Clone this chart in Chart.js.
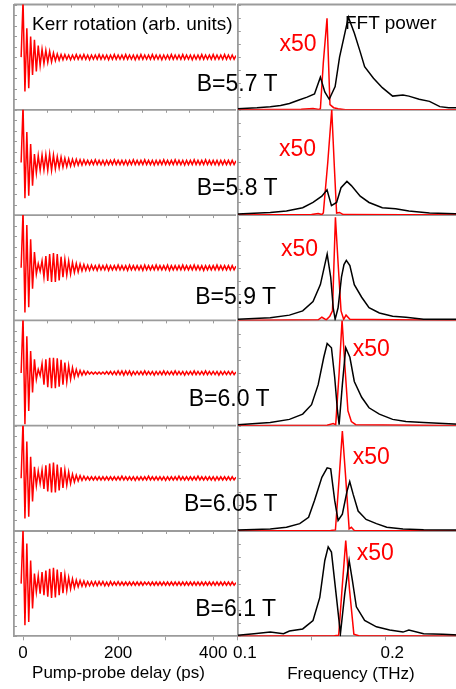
<!DOCTYPE html>
<html>
<head>
<meta charset="utf-8">
<script src="https://cdn.jsdelivr.net/npm/chart.js@4.4.1/dist/chart.umd.min.js"></script>
<style>
  html, body { margin: 0; padding: 0; background: #fff; }
  #wrap { position: relative; width: 456px; height: 689px; overflow: hidden; }
  #wrap canvas { position: absolute; top: 0; }
  #kerr { left: 0; }
  #fft { left: 223px; }
  .txt { position: absolute; white-space: nowrap; line-height: 1; font-family: "Liberation Sans", Arial, sans-serif; }
</style>
</head>
<body>
<div id="wrap">
  <canvas id="kerr" width="240" height="689" style="width:240px;height:689px"></canvas>
  <canvas id="fft" width="241" height="689" style="width:241px;height:689px"></canvas>
</div>
<script>
const GRAY = "#9b9b9b";
const FONT = '"Liberation Sans", Arial, sans-serif';

const fields = ["5.7", "5.8", "5.9", "6.0", "6.05", "6.1"];
const delayTickLabels = [0, 200, 400];
const freqTickLabels = [0.1, 0.2];

// pump-probe delay (ps), one sample per half period of the precession
const delayPs = [
  -4,
  0, 4, 8, 12, 16, 20, 24, 28, 32, 36, 40, 44,
  48, 52, 56, 60, 64, 68, 72, 76, 80, 84, 88, 92,
  96, 100, 104, 108, 112, 116, 120, 124, 128, 132, 136, 140,
  144, 148, 152, 156, 160, 164, 168, 172, 176, 180, 184, 188,
  192, 196, 200, 204, 208, 212, 216, 220, 224, 228, 232, 236,
  240, 244, 248, 252, 256, 260, 264, 268, 272, 276, 280, 284,
  288, 292, 296, 300, 304, 308, 312, 316, 320, 324, 328, 332,
  336, 340, 344, 348, 352, 356, 360, 364, 368, 372, 376, 380,
  384, 388, 392, 396, 400, 404, 408, 412, 416, 420, 424, 428,
  432, 436, 440, 444, 448
];

// Kerr rotation traces, normalised to each panel's half height
const kerr57 = [
  0,
  1.08, -0.65, 0.55, -0.59, 0.39, -0.34, 0.33, -0.27, 0.22, -0.16, 0.15, -0.12,
  0.13, -0.10, 0.11, -0.09, 0.08, -0.07, 0.06, -0.06, 0.05, -0.05, 0.05, -0.04,
  0.04, -0.05, 0.04, -0.04, 0.05, -0.04, 0.04, -0.04, 0.05, -0.04, 0.04, -0.05,
  0.04, -0.04, 0.04, -0.04, 0.05, -0.04, 0.04, -0.04, 0.04, -0.05, 0.04, -0.04,
  0.05, -0.04, 0.04, -0.04, 0.04, -0.04, 0.05, -0.04, 0.04, -0.04, 0.04, -0.05,
  0.04, -0.04, 0.05, -0.04, 0.04, -0.04, 0.04, -0.04, 0.05, -0.04, 0.04, -0.04,
  0.04, -0.05, 0.04, -0.04, 0.04, -0.04, 0.05, -0.04, 0.04, -0.04, 0.04, -0.04,
  0.05, -0.04, 0.04, -0.04, 0.04, -0.05, 0.04, -0.04, 0.04, -0.04, 0.05, -0.04,
  0.04, -0.04, 0.04, -0.04, 0.05, -0.04, 0.04, -0.04, 0.04, -0.04, 0.05, -0.04,
  0.04, -0.04, 0.04, -0.04, 0.03
];
const kerr58 = [
  0,
  1.08, -0.68, 0.58, -0.63, 0.35, -0.44, 0.16, -0.20, 0.13, -0.15, 0.14, -0.14,
  0.15, -0.15, 0.16, -0.15, 0.14, -0.12, 0.11, -0.10, 0.10, -0.09, 0.08, -0.08,
  0.07, -0.07, 0.06, -0.06, 0.06, -0.05, 0.05, -0.05, 0.05, -0.04, 0.04, -0.04,
  0.04, -0.04, 0.05, -0.04, 0.04, -0.04, 0.04, -0.05, 0.04, -0.04, 0.04, -0.04,
  0.05, -0.04, 0.04, -0.04, 0.04, -0.04, 0.04, -0.05, 0.04, -0.04, 0.05, -0.04,
  0.04, -0.04, 0.04, -0.04, 0.05, -0.04, 0.04, -0.04, 0.04, -0.05, 0.04, -0.04,
  0.04, -0.04, 0.05, -0.04, 0.04, -0.04, 0.04, -0.04, 0.05, -0.04, 0.04, -0.04,
  0.04, -0.05, 0.04, -0.04, 0.04, -0.04, 0.05, -0.04, 0.04, -0.04, 0.04, -0.04,
  0.05, -0.04, 0.04, -0.04, 0.04, -0.04, 0.04, -0.05, 0.04, -0.04, 0.04, -0.04,
  0.04, -0.04, 0.04, -0.04, 0.03
];
const kerr59 = [
  0,
  1.08, -0.85, 0.81, -0.75, 0.54, -0.40, 0.30, -0.12, 0.08, -0.07, 0.13, -0.18,
  0.22, -0.25, 0.26, -0.27, 0.28, -0.27, 0.26, -0.24, 0.21, -0.18, 0.16, -0.14,
  0.13, -0.12, 0.10, -0.09, 0.08, -0.08, 0.07, -0.06, 0.06, -0.05, 0.05, -0.05,
  0.05, -0.04, 0.04, -0.05, 0.05, -0.04, 0.04, -0.04, 0.05, -0.05, 0.04, -0.04,
  0.04, -0.04, 0.05, -0.04, 0.04, -0.04, 0.04, -0.05, 0.05, -0.04, 0.04, -0.04,
  0.04, -0.04, 0.04, -0.05, 0.05, -0.04, 0.04, -0.04, 0.04, -0.04, 0.05, -0.04,
  0.04, -0.04, 0.04, -0.04, 0.05, -0.05, 0.04, -0.04, 0.04, -0.04, 0.04, -0.04,
  0.05, -0.04, 0.04, -0.04, 0.04, -0.04, 0.05, -0.04, 0.04, -0.04, 0.04, -0.05,
  0.04, -0.04, 0.04, -0.04, 0.04, -0.04, 0.05, -0.04, 0.04, -0.04, 0.04, -0.04,
  0.04, -0.04, 0.04, -0.04, 0.03
];
const kerr60 = [
  0,
  1.08, -0.97, 0.70, -0.72, 0.42, -0.37, 0.26, -0.12, 0.07, -0.05, 0.18, -0.22,
  0.26, -0.27, 0.29, -0.29, 0.29, -0.29, 0.28, -0.26, 0.25, -0.22, 0.20, -0.17,
  0.14, -0.12, 0.10, -0.08, 0.07, -0.06, 0.05, -0.04, 0.04, -0.03, 0.03, -0.02,
  0.02, -0.02, 0.02, -0.02, 0.02, -0.02, 0.02, -0.02, 0.03, -0.02, 0.03, -0.03,
  0.03, -0.03, 0.04, -0.03, 0.04, -0.04, 0.04, -0.03, 0.04, -0.04, 0.03, -0.03,
  0.03, -0.03, 0.03, -0.03, 0.04, -0.03, 0.03, -0.03, 0.03, -0.04, 0.03, -0.03,
  0.03, -0.03, 0.04, -0.03, 0.03, -0.03, 0.03, -0.03, 0.04, -0.03, 0.03, -0.03,
  0.03, -0.04, 0.03, -0.03, 0.03, -0.03, 0.04, -0.03, 0.03, -0.03, 0.03, -0.03,
  0.04, -0.03, 0.03, -0.03, 0.03, -0.03, 0.03, -0.04, 0.03, -0.03, 0.03, -0.03,
  0.03, -0.03, 0.03, -0.03, 0.02
];
const kerr605 = [
  0,
  1.10, -0.76, 0.70, -0.73, 0.41, -0.44, 0.22, -0.14, 0.14, -0.10, 0.16, -0.20,
  0.25, -0.25, 0.28, -0.27, 0.30, -0.27, 0.26, -0.23, 0.21, -0.18, 0.16, -0.13,
  0.12, -0.10, 0.08, -0.07, 0.06, -0.05, 0.05, -0.04, 0.04, -0.03, 0.03, -0.03,
  0.03, -0.03, 0.03, -0.03, 0.03, -0.03, 0.03, -0.03, 0.03, -0.03, 0.03, -0.03,
  0.03, -0.03, 0.03, -0.03, 0.04, -0.03, 0.03, -0.03, 0.03, -0.03, 0.03, -0.04,
  0.03, -0.03, 0.03, -0.03, 0.03, -0.03, 0.04, -0.03, 0.03, -0.03, 0.03, -0.03,
  0.03, -0.03, 0.03, -0.04, 0.03, -0.03, 0.03, -0.03, 0.03, -0.03, 0.04, -0.03,
  0.03, -0.03, 0.03, -0.03, 0.03, -0.03, 0.03, -0.03, 0.04, -0.03, 0.03, -0.03,
  0.03, -0.03, 0.03, -0.03, 0.03, -0.04, 0.03, -0.03, 0.03, -0.03, 0.03, -0.03,
  0.03, -0.03, 0.03, -0.03, 0.02
];
const kerr61 = [
  0,
  1.05, -0.79, 0.76, -0.73, 0.44, -0.47, 0.19, -0.16, 0.15, -0.19, 0.22, -0.22,
  0.25, -0.25, 0.28, -0.27, 0.30, -0.26, 0.27, -0.22, 0.22, -0.18, 0.17, -0.13,
  0.12, -0.10, 0.09, -0.08, 0.07, -0.06, 0.06, -0.05, 0.05, -0.05, 0.04, -0.04,
  0.04, -0.04, 0.04, -0.04, 0.04, -0.03, 0.04, -0.04, 0.03, -0.04, 0.04, -0.03,
  0.03, -0.03, 0.04, -0.03, 0.03, -0.03, 0.03, -0.03, 0.03, -0.03, 0.03, -0.03,
  0.03, -0.03, 0.03, -0.03, 0.03, -0.02, 0.03, -0.03, 0.03, -0.03, 0.03, -0.03,
  0.03, -0.03, 0.03, -0.03, 0.03, -0.03, 0.03, -0.03, 0.03, -0.03, 0.03, -0.03,
  0.03, -0.03, 0.03, -0.03, 0.03, -0.03, 0.03, -0.03, 0.03, -0.03, 0.03, -0.03,
  0.03, -0.03, 0.03, -0.03, 0.03, -0.03, 0.03, -0.03, 0.03, -0.03, 0.03, -0.03,
  0.03, -0.03, 0.03, -0.03, 0.02
];

// FFT power (black) and the x50 trace (red), each normalised to its panel height
const fftFreq57 = [0.100, 0.113, 0.122, 0.129, 0.135, 0.141, 0.147, 0.152, 0.156, 0.159, 0.162, 0.166, 0.169, 0.172, 0.175, 0.179, 0.183, 0.186, 0.192, 0.198, 0.205, 0.212, 0.216, 0.223, 0.230, 0.237, 0.243, 0.254];
const fftPow57  = [0.01, 0.02, 0.03, 0.04, 0.06, 0.09, 0.12, 0.15, 0.31, 0.17, 0.10, 0.22, 0.50, 0.69, 0.88, 0.73, 0.55, 0.41, 0.30, 0.21, 0.13, 0.14, 0.13, 0.10, 0.08, 0.03, 0.02, 0.02];
const x50Freq57 = [0.100, 0.143, 0.151, 0.155, 0.156, 0.158, 0.1605, 0.1625, 0.165, 0.168, 0.173, 0.254];
const x50Pow57  = [0, 0.005, 0.012, 0.004, 0.01, 0.45, 0.87, 0.05, 0.02, 0.01, 0, 0];

const fftFreq58 = [0.100, 0.122, 0.133, 0.144, 0.151, 0.157, 0.1605, 0.1635, 0.167, 0.170, 0.174, 0.177, 0.183, 0.189, 0.198, 0.207, 0.216, 0.230, 0.254];
const fftPow58  = [0.01, 0.025, 0.04, 0.07, 0.12, 0.18, 0.24, 0.09, 0.12, 0.26, 0.32, 0.28, 0.18, 0.12, 0.07, 0.06, 0.04, 0.02, 0.01];
const x50Freq58 = [0.100, 0.150, 0.1545, 0.157, 0.158, 0.161, 0.1637, 0.1655, 0.167, 0.169, 0.1715, 0.254];
const x50Pow58  = [0, 0.005, 0.015, 0.005, 0.02, 0.5, 1.0, 0.45, 0.02, 0.025, 0.005, 0];

const fftFreq59 = [0.100, 0.122, 0.135, 0.144, 0.151, 0.156, 0.159, 0.1606, 0.163, 0.1647, 0.166, 0.168, 0.1703, 0.172, 0.1736, 0.176, 0.179, 0.184, 0.189, 0.196, 0.205, 0.214, 0.226, 0.254];
const fftPow59  = [0.01, 0.025, 0.05, 0.09, 0.18, 0.34, 0.53, 0.63, 0.41, 0.12, 0.01, 0.12, 0.41, 0.53, 0.57, 0.52, 0.34, 0.22, 0.12, 0.07, 0.04, 0.03, 0.01, 0.01];
const x50Freq59 = [0.100, 0.1545, 0.157, 0.160, 0.1624, 0.1642, 0.1662, 0.1682, 0.170, 0.1718, 0.1734, 0.176, 0.254];
const x50Pow59  = [0, 0.005, 0.03, 0.005, 0.04, 0.09, 0.98, 0.5, 0.09, 0.01, 0.05, 0.01, 0];

const fftFreq60 = [0.100, 0.122, 0.135, 0.144, 0.150, 0.1545, 0.1583, 0.1606, 0.1635, 0.1657, 0.1676, 0.1687, 0.1709, 0.1732, 0.176, 0.179, 0.184, 0.189, 0.196, 0.205, 0.214, 0.226, 0.254];
const fftPow60  = [0.01, 0.03, 0.06, 0.11, 0.20, 0.39, 0.65, 0.78, 0.74, 0.46, 0.14, 0.01, 0.39, 0.74, 0.65, 0.42, 0.27, 0.17, 0.11, 0.06, 0.04, 0.03, 0.01];
const x50Freq60 = [0.100, 0.1606, 0.1647, 0.1664, 0.1687, 0.1707, 0.1727, 0.1747, 0.177, 0.180, 0.254];
const x50Pow60  = [0, 0.005, 0.02, 0.01, 0.5, 1.0, 0.55, 0.14, 0.04, 0.01, 0];

const fftFreq605 = [0.100, 0.122, 0.133, 0.142, 0.148, 0.152, 0.157, 0.1606, 0.163, 0.1657, 0.168, 0.1709, 0.1741, 0.1759, 0.1782, 0.1816, 0.187, 0.194, 0.201, 0.212, 0.226, 0.254];
const fftPow605  = [0.01, 0.02, 0.035, 0.07, 0.13, 0.29, 0.51, 0.60, 0.59, 0.29, 0.10, 0.16, 0.38, 0.47, 0.35, 0.19, 0.11, 0.07, 0.035, 0.02, 0.013, 0.01];
const x50Freq605 = [0.100, 0.163, 0.1662, 0.1686, 0.1709, 0.1732, 0.1755, 0.177, 0.179, 0.254];
const x50Pow605  = [0, 0.005, 0.01, 0.48, 0.95, 0.5, 0.02, 0.035, 0.005, 0];

const fftFreq61 = [0.100, 0.111, 0.122, 0.131, 0.135, 0.144, 0.151, 0.1556, 0.159, 0.1613, 0.1635, 0.1669, 0.1696, 0.1725, 0.1755, 0.1777, 0.1804, 0.186, 0.194, 0.203, 0.212, 0.216, 0.226, 0.239, 0.254];
const fftPow61  = [0.01, 0.025, 0.04, 0.025, 0.05, 0.07, 0.15, 0.37, 0.72, 0.85, 0.80, 0.37, 0.025, 0.40, 0.72, 0.53, 0.28, 0.15, 0.09, 0.06, 0.04, 0.06, 0.025, 0.02, 0.01];
const x50Freq61 = [0.100, 0.1655, 0.1684, 0.1707, 0.1732, 0.1757, 0.1787, 0.182, 0.254];
const x50Pow61  = [0, 0.005, 0.01, 0.45, 0.91, 0.45, 0.02, 0.005, 0];

const kerrRows = [kerr57, kerr58, kerr59, kerr60, kerr605, kerr61];
const fftRows = [
  [fftFreq57, fftPow57, x50Freq57, x50Pow57],
  [fftFreq58, fftPow58, x50Freq58, x50Pow58],
  [fftFreq59, fftPow59, x50Freq59, x50Pow59],
  [fftFreq60, fftPow60, x50Freq60, x50Pow60],
  [fftFreq605, fftPow605, x50Freq605, x50Pow605],
  [fftFreq61, fftPow61, x50Freq61, x50Pow61]
];

const pairs = (xs, ys) => xs.map((x, i) => ({ x: x, y: ys[i] }));

// gray row frames: separator line, inward ticks on the left axis and along the top
const framePlugin = {
  id: "rowFrames",
  beforeDatasetsDraw(chart, args, opts) {
    const ctx = chart.ctx;
    const area = chart.chartArea;
    const xs = chart.scales.x;
    ctx.save();
    ctx.strokeStyle = GRAY;
    Object.values(chart.scales).forEach((ys) => {
      if (ys.axis !== "y") return;
      ctx.lineWidth = 1.8;
      ctx.beginPath();
      ctx.moveTo(area.left, ys.top);
      ctx.lineTo(area.right, ys.top);
      ctx.stroke();
      ctx.lineWidth = 1;
      ctx.beginPath();
      ys.ticks.forEach((t) => {
        const y = Math.round(ys.getPixelForValue(t.value)) + 0.5;
        ctx.moveTo(area.left, y);
        ctx.lineTo(area.left + 3, y);
      });
      (opts.topTicks || []).forEach((v) => {
        const x = Math.round(xs.getPixelForValue(v)) + 0.5;
        ctx.moveTo(x, ys.top);
        ctx.lineTo(x, ys.top + 3);
      });
      ctx.stroke();
    });
    ctx.restore();
  }
};

function rowScale(stack, index, min, max, step) {
  return {
    type: "linear",
    position: "left",
    stack: stack,
    stackWeight: 1,
    weight: 10 - index,
    min: min,
    max: max,
    afterFit: (s) => { s.width = 0; },
    border: { color: GRAY, width: 1.8 },
    grid: { display: false },
    ticks: { display: false, stepSize: step }
  };
}

function bottomAxis(min, max, step, labels, fmt, offset) {
  return {
    type: "linear",
    position: "bottom",
    min: min,
    max: max,
    afterFit: (s) => { s.height = 52.7; },
    border: { color: GRAY, width: 1.8 },
    grid: { drawOnChartArea: false, drawTicks: true, tickLength: 4, color: GRAY, lineWidth: 1 },
    ticks: {
      stepSize: step,
      includeBounds: false,
      autoSkip: false,
      maxRotation: 0,
      padding: 3,
      labelOffset: offset,
      color: "#000",
      font: { family: FONT, size: 17 },
      callback: (v) => (labels.some((l) => Math.abs(l - v) < 1e-6) ? fmt(v) : "")
    }
  };
}

// time traces
const kerrScales = { x: bottomAxis(-19, 448, 100, delayTickLabels, (v) => String(v), 0) };
const kerrSets = [];
kerrRows.forEach((row, i) => {
  kerrScales["k" + i] = rowScale("kerr", i, -1, 1, 0.2);
  kerrSets.push({
    data: pairs(delayPs, row),
    yAxisID: "k" + i,
    borderColor: "#ff0000",
    borderWidth: 1.5,
    pointRadius: 0,
    tension: 0
  });
});

new Chart(document.getElementById("kerr"), {
  type: "line",
  data: { datasets: kerrSets },
  options: {
    responsive: false,
    animation: false,
    layout: { padding: { top: 4.5, left: 14, right: 4, bottom: 0 } },
    plugins: { legend: { display: false }, tooltip: { enabled: false }, rowFrames: { topTicks: [50, 100, 150, 200, 250, 300, 350, 400] } },
    scales: kerrScales
  },
  plugins: [framePlugin]
});

// spectra
const fftScales = { x: bottomAxis(0.1, 0.2534, 0.05, freqTickLabels, (v) => v.toFixed(1), 7) };
const fftSets = [];
fftRows.forEach((row, i) => {
  fftScales["f" + i] = rowScale("fft", i, 0, 1, 0.125);
  fftSets.push({
    data: pairs(row[0], row[1]),
    yAxisID: "f" + i,
    borderColor: "#000000",
    borderWidth: 1.5,
    pointRadius: 0,
    tension: 0
  });
  fftSets.push({
    data: pairs(row[2], row[3]),
    yAxisID: "f" + i,
    borderColor: "#ff0000",
    borderWidth: 1.5,
    pointRadius: 0,
    tension: 0
  });
});

new Chart(document.getElementById("fft"), {
  type: "line",
  data: { datasets: fftSets },
  options: {
    responsive: false,
    animation: false,
    layout: { padding: { top: 4.5, left: 14, right: 0, bottom: 0 } },
    plugins: { legend: { display: false }, tooltip: { enabled: false }, rowFrames: { topTicks: [] } },
    scales: fftScales
  },
  plugins: [framePlugin]
});

// text labels, placed by baseline
const wrap = document.getElementById("wrap");
function addText(text, x, baseline, size, color, align) {
  const d = document.createElement("div");
  d.className = "txt";
  d.textContent = text;
  d.style.fontSize = size + "px";
  d.style.color = color;
  d.style.left = x + "px";
  d.style.top = (baseline - 0.8465 * size) + "px";
  if (align === "right") d.style.transform = "translateX(-100%)";
  if (align === "center") d.style.transform = "translateX(-50%)";
  wrap.appendChild(d);
}

const fieldLabelAt = [[277.5, 91.7], [277.5, 195.5], [276, 304.3], [269.5, 406.7], [277.5, 511.7], [276, 616.7]];
const x50LabelAt = [[279.5, 51.7], [279, 156.7], [281, 256.7], [352.7, 356.7], [352.7, 464.3], [356.7, 560.7]];

fields.forEach((b, i) => {
  addText("B=" + b + " T", fieldLabelAt[i][0], fieldLabelAt[i][1], 23, "#000", "right");
  addText("x50", x50LabelAt[i][0], x50LabelAt[i][1], 23, "#ff0000", "left");
});
addText("Kerr rotation (arb. units)", 32, 30, 19, "#000", "left");
addText("FFT power", 345, 29, 19, "#000", "left");
addText("Pump-probe delay (ps)", 118.5, 678.5, 17, "#000", "center");
addText("Frequency (THz)", 351, 679, 17, "#000", "center");
</script>
</body>
</html>
